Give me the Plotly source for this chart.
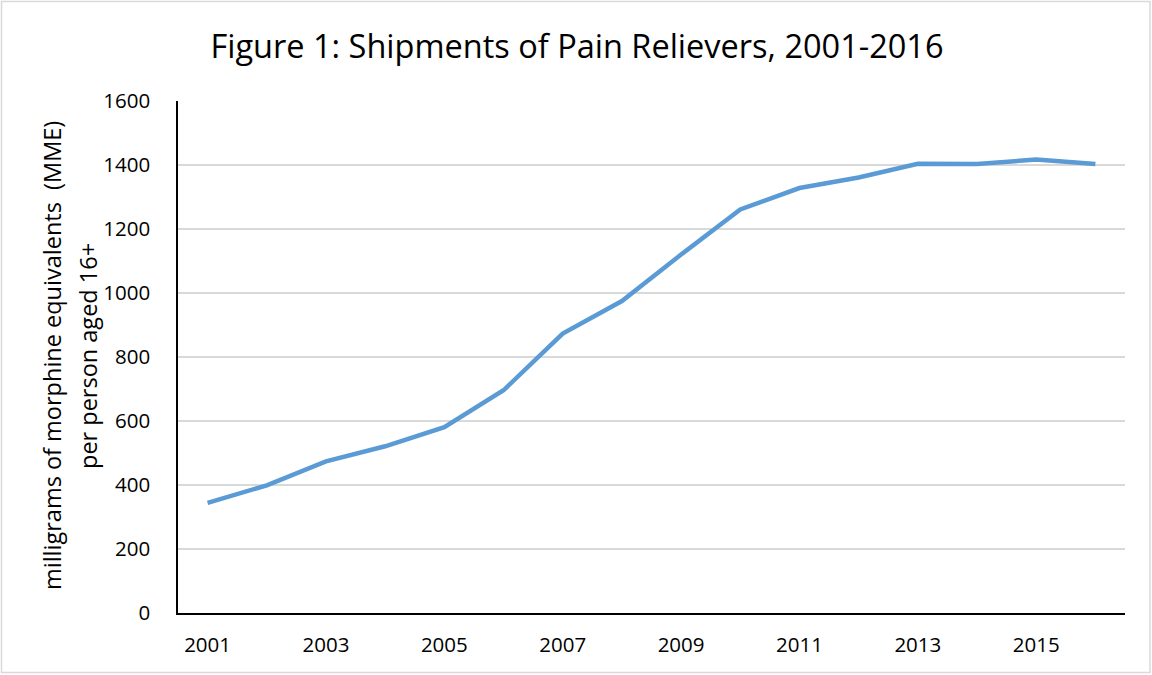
import plotly.graph_objects as go

years = list(range(2001, 2017))
mme = [344, 399, 474, 521, 581, 696, 873, 975, 1120, 1261, 1328, 1361, 1404, 1403, 1417, 1403]
x_ticks = [2001, 2003, 2005, 2007, 2009, 2011, 2013, 2015]
y_ticks = [0, 200, 400, 600, 800, 1000, 1200, 1400, 1600]

W, H = 1152, 675
L, R, T, B = 178, 27, 101, 62
pw, ph = W - L - R, H - T - B

def px(xp):
    return (xp - L) / pw

def py(yp):
    return (H - B - yp) / ph

FONT = "Open Sans"

fig = go.Figure()
fig.add_trace(go.Scatter(x=years, y=mme, mode="lines",
                         line=dict(color="#5B9BD5", width=4.5),
                         hoverinfo="x+y", showlegend=False))

fig.update_layout(
    width=W, height=H,
    margin=dict(l=L, r=R, t=T, b=B),
    paper_bgcolor="white", plot_bgcolor="white",
    font=dict(family=FONT, color="#000000"),
    title=dict(text="Figure 1: Shipments of Pain Relievers, 2001-2016",
               x=577 / W, xref="container", xanchor="center",
               y=1 - 47 / H, yanchor="middle",
               font=dict(size=32.5, family=FONT, color="#000000")),
    xaxis=dict(range=[2000.5, 2016.5], tickmode="array", tickvals=x_ticks,
               ticktext=[str(v) for v in x_ticks],
               showgrid=False, showline=True, linecolor="#000000", linewidth=1.5,
               ticks="", ticklabelstandoff=13, tickfont=dict(size=20.5), zeroline=False),
    yaxis=dict(range=[0, 1600], tickmode="array", tickvals=y_ticks,
               showgrid=True, gridcolor="#d9d9d9", gridwidth=1.5,
               showline=True, linecolor="#000000", linewidth=1.5,
               ticks="", ticklabelstandoff=22, tickfont=dict(size=20.5), zeroline=False),
    annotations=[
        dict(text="milligrams of morphine equivalents  (MME)",
             xref="paper", yref="paper", x=px(52), y=py(356),
             xanchor="center", yanchor="middle", textangle=-90,
             showarrow=False, font=dict(size=23.5, family=FONT)),
        dict(text="per person aged 16+",
             xref="paper", yref="paper", x=px(88), y=py(356),
             xanchor="center", yanchor="middle", textangle=-90,
             showarrow=False, font=dict(size=23.5, family=FONT)),
    ],
    shapes=[dict(type="rect", xref="paper", yref="paper",
                 x0=px(1.5), x1=px(1150), y0=py(672.5), y1=py(1.5),
                 line=dict(color="#d9d9d9", width=1.5), fillcolor="rgba(0,0,0,0)",
                 layer="below")],
)

fig.write_html("out.html")
